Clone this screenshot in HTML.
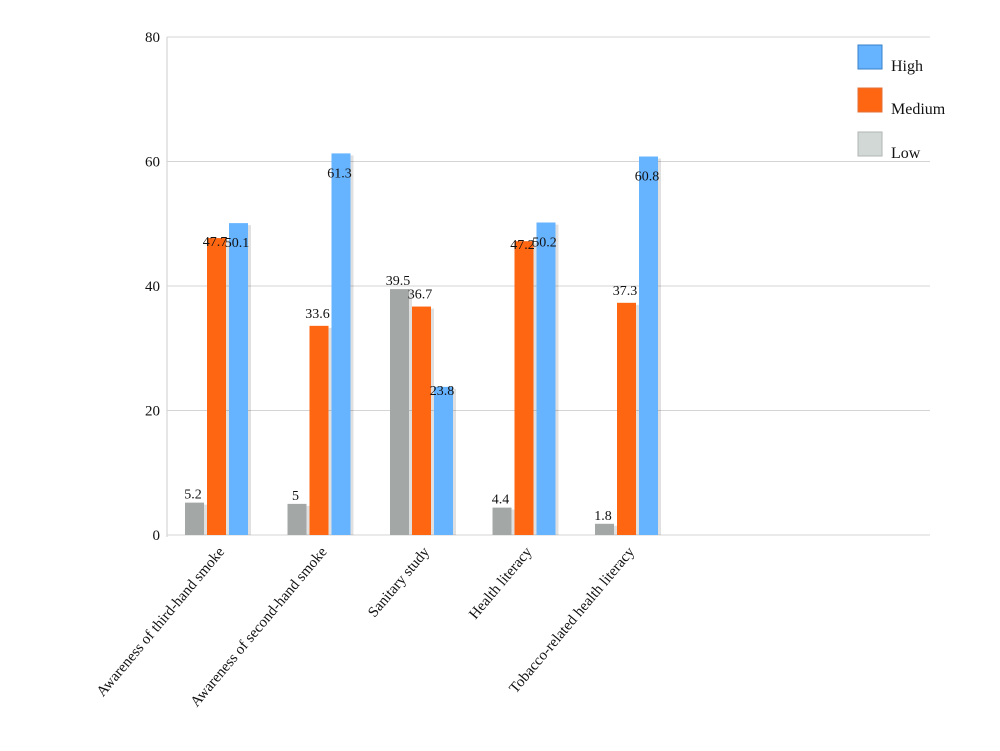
<!DOCTYPE html>
<html><head><meta charset="utf-8"><style>
body{margin:0;background:#fff;}
svg text{font-family:"Liberation Serif",serif;fill:#111;}
</style></head><body>
<svg id="chart" width="1000" height="746" xmlns="http://www.w3.org/2000/svg">
<g id="grid"></g><g id="bars"></g><g id="labels"></g>
<g>
<rect x="858" y="45" width="24" height="24" fill="#66b3ff" stroke="#3a7fc8"/>
<text x="891" y="71" font-size="16">High</text>
<rect x="858" y="88" width="24" height="24" fill="#ff6611" stroke="#e0703a"/>
<text x="891" y="114" font-size="16">Medium</text>
<rect x="858" y="132" width="24" height="24" fill="#d2d8d6" stroke="#b0b6b4"/>
<text x="891" y="158" font-size="16">Low</text>
</g>
</svg>
<script>
const categories=["Awareness of third-hand smoke","Awareness of second-hand smoke","Sanitary study","Health literacy","Tobacco-related health literacy"];
const lowValues=[5.2,5,39.5,4.4,1.8];
const mediumValues=[47.7,33.6,36.7,47.2,37.3];
const highValues=[50.1,61.3,23.8,50.2,60.8];
const yTicks=[0,20,40,60,80];
const NS="http://www.w3.org/2000/svg";
const y0=535,y80=37;
function yScale(v){return y0-(v/80)*(y0-y80);}
function xGroup(i){return 185+i*102.5;}
function mk(tag,attrs,parent){const e=document.createElementNS(NS,tag);for(const k in attrs)e.setAttribute(k,attrs[k]);parent.appendChild(e);return e;}
const grid=document.getElementById('grid'),bars=document.getElementById('bars'),labels=document.getElementById('labels');
const ax=mk('line',{x1:167,y1:y80,x2:167,y2:y0+2,stroke:'#ccc'},grid);


yTicks.forEach(t=>{
  const y=yScale(t);
  const l=mk('line',{x1:167,y1:y,x2:930,y2:y,stroke:'#d4d4d4'},grid);
  
  
  const tx=mk('text',{x:160,y:y+5,'font-size':15,'text-anchor':'end'},grid);
  tx.textContent=t;
  
  
});
const series=[{name:'low',vals:lowValues,fill:'#a3a8a6',off:0},{name:'medium',vals:mediumValues,fill:'#ff6611',off:22},{name:'high',vals:highValues,fill:'#66b3ff',off:44}];
categories.forEach((c,i)=>{
  series.forEach(s=>{
    const v=s.vals[i],x=xGroup(i)+s.off,y=yScale(v);
    const sh=mk('rect',{x:x+3,y:y+2,width:19,height:y0-y-2,fill:'#000',opacity:0.12},bars);
    
    
    const r=mk('rect',{x:x,y:y,width:19,height:y0-y,fill:s.fill},bars);
    
    
    const t=mk('text',{x:x+8,y:y+(s.name==='low'?-4:(s.name==='high'?8:-8)+(v<40?0:16)),'font-size':14,'text-anchor':'middle'},labels);
    t.textContent=v;
    
    
  });
  const cx=xGroup(i)+40;
  const cl=mk('text',{x:0,y:0,'font-size':15,'text-anchor':'end',transform:'translate('+cx+','+552+') rotate(-50)'},labels);
  cl.textContent=c;
  
  
});
</script>
</body></html>
